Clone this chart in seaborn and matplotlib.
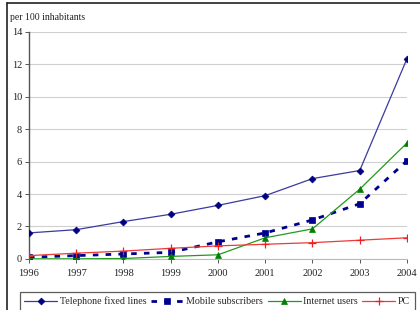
import matplotlib
matplotlib.use("Agg")
import matplotlib.pyplot as plt
import seaborn as sns
import pandas as pd
from matplotlib.lines import Line2D

years = [1996, 1997, 1998, 1999, 2000, 2001, 2002, 2003, 2004]
telephone = [1.6, 1.8, 2.3, 2.75, 3.3, 3.9, 4.95, 5.45, 12.35]
mobile = [0.1, 0.2, 0.3, 0.4, 1.05, 1.6, 2.4, 3.4, 6.05]
internet = [0.0, 0.0, 0.02, 0.15, 0.25, 1.3, 1.85, 4.3, 7.15]
pc = [0.2, 0.35, 0.48, 0.65, 0.8, 0.9, 1.0, 1.15, 1.3]
series_names = ["Telephone fixed lines", "Mobile subscribers", "Internet users", "PC"]

df = pd.DataFrame({"year": years * 4,
                   "value": telephone + mobile + internet + pc,
                   "series": sum([[n] * len(years) for n in series_names], [])})

sns.set_theme(style="white")
plt.rcParams['font.family'] = ['Liberation Serif', 'DejaVu Serif']

fig = plt.figure(figsize=(4.2, 3.1), dpi=100)
ax = fig.add_axes([0.069, 0.165, 0.9, 0.732])

styles = {
    "Telephone fixed lines": dict(color="#3a3aa0", marker="D", ms=3.5, mfc="#000080", mec="#000080", ls="-", lw=0.9),
    "Mobile subscribers": dict(color="#000090", marker="s", ms=4, mfc="#000090", mec="#000090", ls=(0, (2.0, 2.6)), lw=2.0),
    "Internet users": dict(color="#1f9a1f", marker="^", ms=4.5, mfc="#008000", mec="#008000", ls="-", lw=0.9),
    "PC": dict(color="#ee3a3a", marker="+", ms=6, mew=0.9, mec="#ee2020", ls="-", lw=0.9),
}

handles = []
for name in series_names:
    st = styles[name]
    sub = df[df["series"] == name]
    sns.lineplot(data=sub, x="year", y="value", ax=ax, color=st["color"],
                 linewidth=st["lw"], linestyle=st["ls"], marker=st["marker"],
                 markersize=st["ms"], markerfacecolor=st.get("mfc", st["color"]),
                 markeredgecolor=st["mec"], markeredgewidth=st.get("mew", 0.5),
                 legend=False, zorder=3)
    handles.append(Line2D([], [], color=st["color"], lw=st["lw"], ls=st["ls"],
                          marker=st["marker"], ms=st["ms"], mfc=st.get("mfc", st["color"]),
                          mec=st["mec"], mew=st.get("mew", 0.5)))

ax.set_xlim(1996, 2004)
ax.set_ylim(0, 14)
ax.set_xticks(years)
ax.set_xticklabels([str(y) for y in years])
ax.set_yticks(range(0, 15, 2))
ax.set_xlabel("")
ax.set_ylabel("")
ax.grid(axis="y", color="#d0d0d0", lw=0.8)
ax.grid(axis="x", visible=False)
for s in ["top", "right"]:
    ax.spines[s].set_visible(False)
ax.spines["left"].set_color("#555555")
ax.spines["left"].set_linewidth(1.0)
ax.spines["bottom"].set_color("#bbbbbb")
ax.spines["bottom"].set_linewidth(0.8)
ax.tick_params(axis="both", labelsize=7.5, colors="#222222", length=3, width=0.7, direction="out",
               bottom=True, left=True)
ax.tick_params(axis="x", pad=4, color="#555555")
ax.tick_params(axis="y", pad=2, color="#555555")

fig.text(0.024, 0.945, "per 100 inhabitants", fontsize=7, color="#222222", va="center", ha="left")

leg = fig.legend(handles, series_names, loc="lower center", bbox_to_anchor=(0.517, -0.012),
                 ncol=4, fontsize=7.2, frameon=True, fancybox=False, handlelength=3.3,
                 handletextpad=0.25, columnspacing=0.45, borderpad=0.45, borderaxespad=0.3)
leg.get_frame().set_edgecolor("#333333")
leg.get_frame().set_linewidth(0.9)

# outer frame lines (left and top) of the original picture
fig.add_artist(Line2D([0.017, 0.017], [0, 0.99], transform=fig.transFigure, color="#222222", lw=1.2))
fig.add_artist(Line2D([0.017, 1.0], [0.99, 0.99], transform=fig.transFigure, color="#222222", lw=1.2))

fig.savefig("out.png", dpi=100)
